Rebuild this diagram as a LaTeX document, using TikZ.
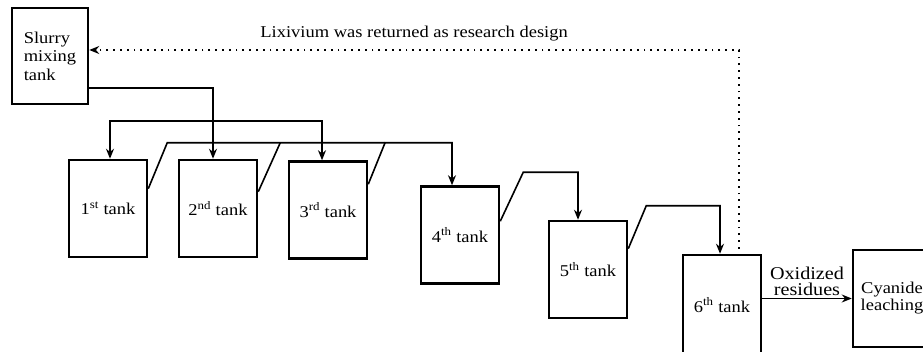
\documentclass[tikz,border=0pt]{standalone}
\usepackage{fontspec}
\setmainfont[FakeStretch=1.12]{Liberation Serif}
\usetikzlibrary{arrows.meta}
\begin{document}
\begin{tikzpicture}[x=1pt,y=-1pt,>={Stealth[length=10pt,width=8pt]},
	tank/.style={draw,line width=2.5pt,minimum width=78pt,minimum height=97pt,inner sep=1pt,align=center,font=\fontsize{16.5}{17}\selectfont},
	pipe/.style={line width=1.6pt}]
	\useasboundingbox (0,0) rectangle (923,352);
	\clip (0,0) rectangle (923,352);

	\node[tank, minimum width=76pt, minimum height=96pt, align=left, font=\fontsize{16.5}{18.5}\selectfont] (mix) at (50,56) {Slurry\\mixing\\tank};
	\node[tank] (t1) at (108,208.5) {1\textsuperscript{st} tank};
	\node[tank] (t2) [right of=t1, node distance=110pt] {2\textsuperscript{nd} tank};
	\node[tank] (t3) at (328,210) {3\textsuperscript{rd} tank};
	\node[tank] (t4) at (460,235) {4\textsuperscript{th} tank};
	\node[tank] (t5) at (588,269.5) {5\textsuperscript{th} tank};
	\node[tank, minimum height=100pt] (t6) at (722,305) {6\textsuperscript{th} tank};
	\node[tank] (cy) at (892,298.5) {Cyanide\\leaching};

	\draw[pipe,->] ([yshift=-32pt]mix.east) -| ([xshift=-5pt]t2.north);
	\draw[pipe,<->] ([xshift=2pt]t1.north) -- ++(0,-38) -| ([xshift=-6pt]t3.north);
	\draw[pipe,->] ([yshift=-30pt]t1.north east) -- ++(19,-46) -| ([xshift=-8pt]t4.north);
	\draw[pipe] ([yshift=-33pt]t2.north east) -- ++(22,-49);
	\draw[pipe] ([yshift=-24pt]t3.north east) -- ++(17,-42);
	\draw[pipe,->] ([yshift=-36pt]t4.north east) -- ++(23,-49) -| ([xshift=-10pt]t5.north);
	\draw[pipe,->] ([yshift=-29pt]t5.north east) -- ++(18,-43) -| ([xshift=-2pt]t6.north);
	\draw[pipe,->] (t6.east |- cy.west) -- node[above, align=center, inner sep=2pt, font=\fontsize{18}{16.5}\selectfont] {Oxidized\\residues} (cy.west);
	\draw[pipe,->,dash pattern=on 1.8pt off 5pt,shorten <=5pt] ([xshift=17pt]t6.north) |- node[pos=0.75, above, yshift=5pt, font=\fontsize{16.5}{17}\selectfont] {Lixivium was returned as research design} ([yshift=6pt]mix.east);

\end{tikzpicture}
\end{document}
